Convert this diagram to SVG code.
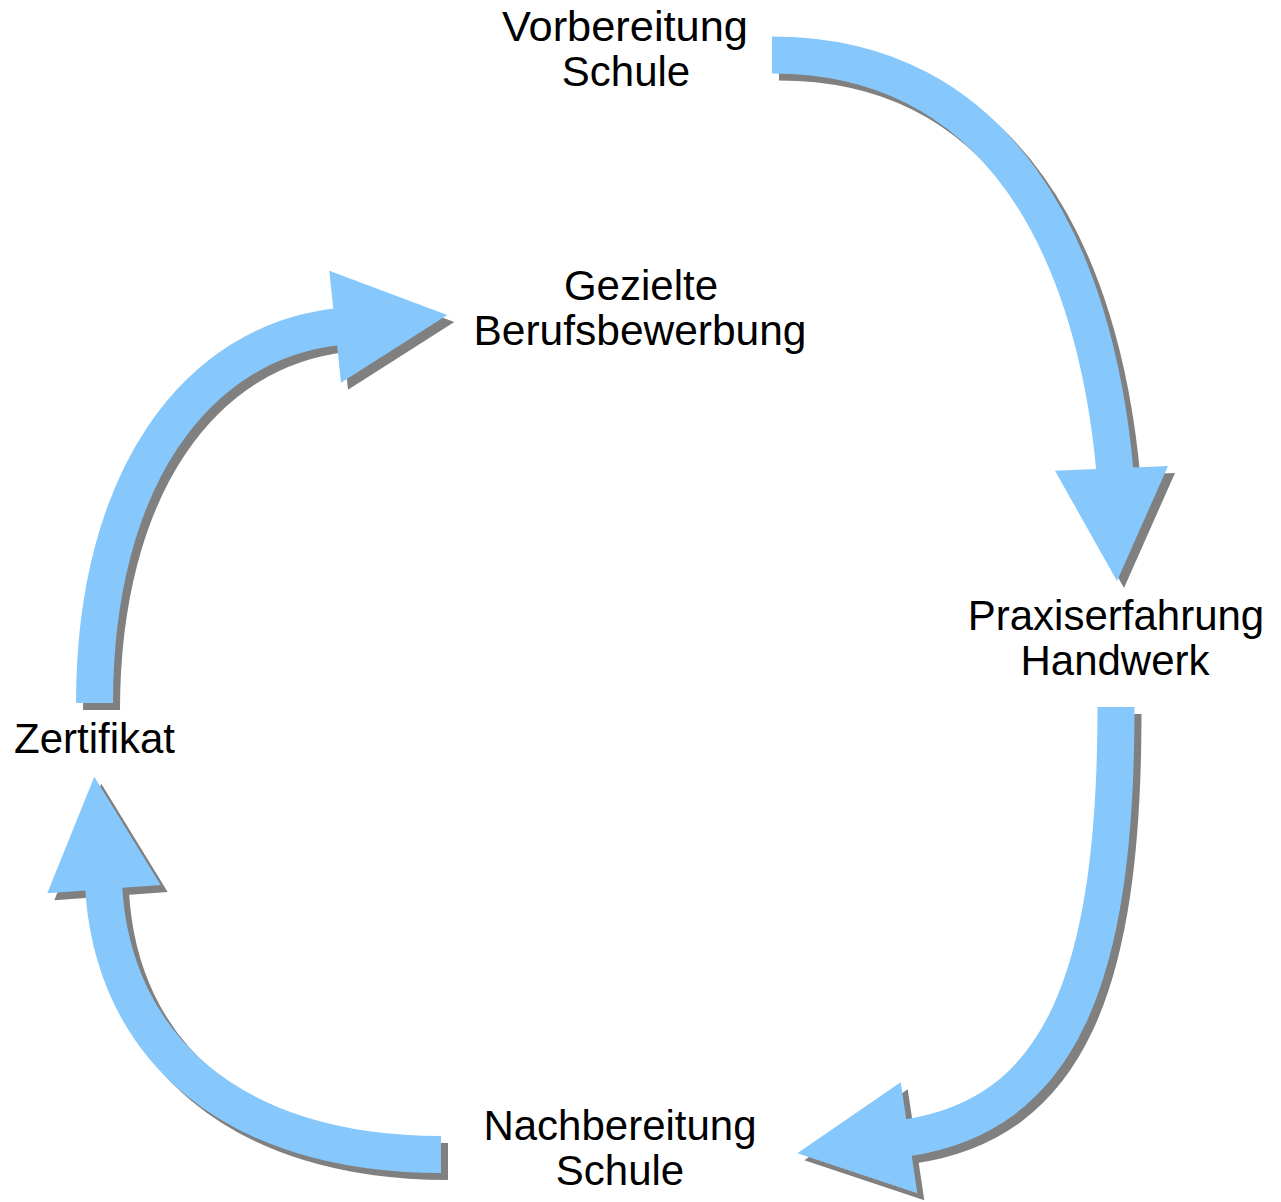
<svg xmlns="http://www.w3.org/2000/svg" xmlns:xlink="http://www.w3.org/1999/xlink" width="1281" height="1202" viewBox="0 0 1281 1202">
  <style>
    .lbl { font-family: "Liberation Sans", Arial, sans-serif; font-size: 42px; fill: #000000; text-anchor: middle; }
    .shaft { fill: none; stroke-width: 37; stroke-linecap: butt; }
    .head { stroke: none; }
    .shadow { fill: #808080; stroke: #808080; }
    .main { fill: #86C8FC; stroke: #86C8FC; }
  </style>
  <defs>
    <g id="a1">
      <path class="shaft" d="M772,55 C1000,55 1095,250 1115,472"/>
      <polygon class="head" points="1055,470.7 1168,466 1117,581"/>
    </g>
    <g id="a2">
      <path class="shaft" d="M1116,707 C1116,980 1060,1115 906,1138"/>
      <polygon class="head" points="900.7,1082.3 917.3,1193.3 797.3,1153.3"/>
    </g>
    <g id="a3">
      <path class="shaft" d="M441,1154.5 C230,1154.5 112,1045 103.5,885"/>
      <polygon class="head" points="47.3,893.3 160.7,885 94.3,776.7"/>
    </g>
    <g id="a4">
      <path class="shaft" d="M94.5,703 C94.5,480 195.8,341.5 339,326.6"/>
      <polygon class="head" points="329.3,270.7 341,382.7 447.3,315"/>
    </g>
  </defs>
  <g id="connectors">
    <use xlink:href="#a1" href="#a1" class="shadow" transform="translate(7,7)"/>
    <use xlink:href="#a1" href="#a1" class="main"/>
    <use xlink:href="#a2" href="#a2" class="shadow" transform="translate(7,7)"/>
    <use xlink:href="#a2" href="#a2" class="main"/>
    <use xlink:href="#a3" href="#a3" class="shadow" transform="translate(7,7)"/>
    <use xlink:href="#a3" href="#a3" class="main"/>
    <use xlink:href="#a4" href="#a4" class="shadow" transform="translate(7,7)"/>
    <use xlink:href="#a4" href="#a4" class="main"/>
  </g>
  <g id="node-vorbereitung">
    <text class="lbl" x="625" y="41" textLength="246" lengthAdjust="spacingAndGlyphs">Vorbereitung</text>
    <text class="lbl" x="626" y="86">Schule</text>
  </g>
  <g id="node-praxis">
    <text class="lbl" x="1116" y="630">Praxiserfahrung</text>
    <text class="lbl" x="1115" y="675">Handwerk</text>
  </g>
  <g id="node-nachbereitung">
    <text class="lbl" x="620" y="1140">Nachbereitung</text>
    <text class="lbl" x="620" y="1185">Schule</text>
  </g>
  <g id="node-zertifikat">
    <text class="lbl" x="94.5" y="753">Zertifikat</text>
  </g>
  <g id="node-bewerbung">
    <text class="lbl" x="641" y="300">Gezielte</text>
    <text class="lbl" x="640" y="345" textLength="333" lengthAdjust="spacingAndGlyphs">Berufsbewerbung</text>
  </g>
</svg>
